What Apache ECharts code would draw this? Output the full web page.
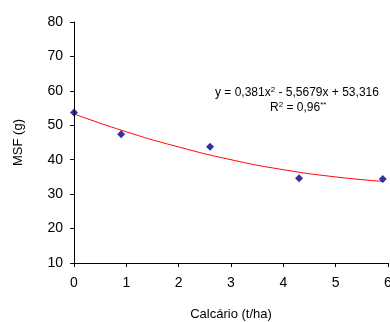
<!DOCTYPE html>
<html>
<head>
<meta charset="utf-8">
<script src="https://cdn.jsdelivr.net/npm/echarts@6/dist/echarts.min.js"></script>
<style>
  html, body { margin: 0; padding: 0; background: #fff; }
  #chart { width: 390px; height: 322px; }
</style>
</head>
<body>
<div id="chart"></div>
<script>
// observed points (calcário t/ha, MSF g)
const doseX = [0, 0.9, 2.6, 4.3, 5.9];
const msfY = [53.7, 47.4, 43.8, 34.6, 34.4];

// trend curve
const trendX = [0, 1, 2, 3, 4, 5, 5.9];
const trendY = [53.3, 48.1, 43.7, 40.0, 37.1, 35.0, 33.7];

const yTicks = [10, 20, 30, 40, 50, 60, 70, 80];
const xTicks = [0, 1, 2, 3, 4, 5, 6];

const chart = echarts.init(document.getElementById('chart'));
const font = 'Liberation Sans, Arial, sans-serif';

const option = {
  animation: false,
  grid: { left: 74, top: 22, right: 2, bottom: 59, outerBoundsMode: 'none', containLabel: false },
  xAxis: {
    type: 'value',
    min: xTicks[0],
    max: xTicks[xTicks.length - 1],
    interval: 1,
    name: 'Calcário (t/ha)',
    nameLocation: 'middle',
    nameGap: 45,
    nameTextStyle: { color: '#000', fontSize: 13, fontFamily: font },
    axisLine: { lineStyle: { color: '#000', width: 1 } },
    axisTick: { show: true, length: 4, lineStyle: { color: '#000' } },
    axisLabel: { color: '#000', fontSize: 14, fontFamily: font, margin: 13 },
    splitLine: { show: false }
  },
  yAxis: {
    type: 'value',
    min: yTicks[0],
    max: yTicks[yTicks.length - 1],
    interval: 10,
    name: 'MSF (g)',
    nameLocation: 'middle',
    nameGap: 49,
    nameTextStyle: { color: '#000', fontSize: 13, fontFamily: font },
    axisLine: { show: true, lineStyle: { color: '#000', width: 1 } },
    axisTick: { show: true, length: 4, lineStyle: { color: '#000' } },
    axisLabel: { color: '#000', fontSize: 14, fontFamily: font, margin: 11 },
    splitLine: { show: false }
  },
  graphic: [
    {
      type: 'text',
      left: 215,
      top: 86,
      style: {
        text: 'y = 0,381x{sup|2} - 5,5679x + 53,316',
        font: '12px ' + font,
        fill: '#000',
        rich: { sup: { fontSize: 8, verticalAlign: 'top', padding: [0, 0, 6, 0] } }
      }
    },
    {
      type: 'text',
      left: 270,
      top: 101,
      style: {
        text: 'R{sup|2} = 0,96{sup|**}',
        font: '12px ' + font,
        fill: '#000',
        rich: { sup: { fontSize: 8, verticalAlign: 'top', padding: [0, 0, 6, 0] } }
      }
    }
  ],
  series: [
    {
      type: 'line',
      data: trendX.map((x, i) => [x, trendY[i]]),
      smooth: true,
      showSymbol: false,
      lineStyle: { color: '#ff0000', width: 1 },
      z: 2
    },
    {
      type: 'scatter',
      data: doseX.map((x, i) => [x, msfY[i]]),
      symbol: 'diamond',
      symbolSize: 8,
      itemStyle: { color: '#000080' },
      z: 3
    }
  ]
};

chart.setOption(option);
</script>
</body>
</html>
